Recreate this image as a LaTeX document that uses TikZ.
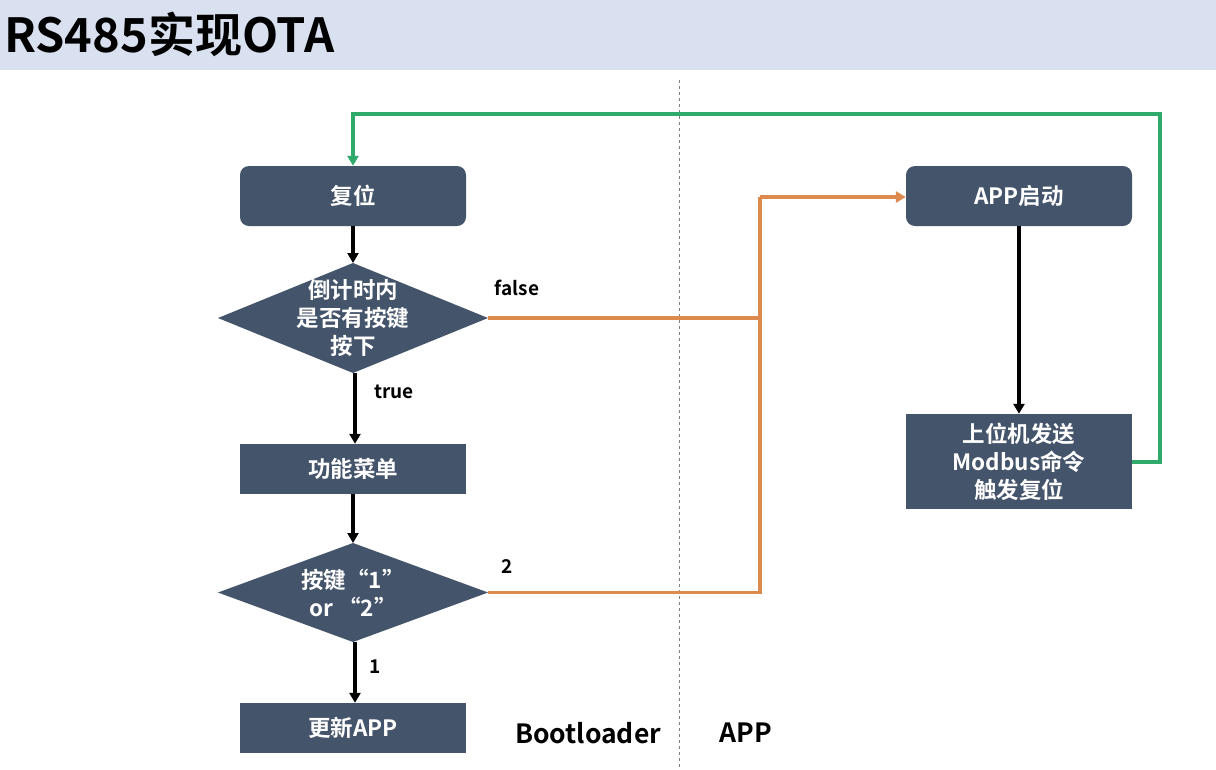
\documentclass[tikz,border=0pt]{standalone}
\usepackage{fontspec}
\setmainfont{Noto Sans CJK SC}[BoldFont={* Bold}]
\newfontfamily\cjkb{Noto Sans CJK SC Bold}
\usetikzlibrary{arrows.meta,shapes.geometric}
\definecolor{boxfill}{HTML}{44546A}
\definecolor{titlebg}{HTML}{D9E1F0}
\definecolor{orangeln}{HTML}{DC8A4E}
\definecolor{greenln}{HTML}{2FAA6A}
\tikzset{
  boxfont/.style={font=\cjkb\fontsize{22.5}{28}\selectfont},
  procbox/.style={draw=none, fill=boxfill, text=white, minimum width=226pt, inner sep=0pt, align=center, boxfont},
  roundbox/.style={procbox, rounded corners=9pt, minimum height=60pt},
  decision/.style={diamond, fill=boxfill, inner sep=0pt, outer sep=0pt},
  dtext/.style={text=white, align=center, inner sep=0pt, boxfont},
  blk/.style={draw=black, line width=3.2pt, -{Triangle[length=10pt,width=11pt]}},
  org/.style={draw=orangeln, line width=3.2pt},
  grn/.style={draw=greenln, line width=3.2pt},
  tip/.style={-{Triangle[length=10pt,width=11pt]}},
  lbl/.style={font=\cjkb\fontsize{19}{22}\selectfont, text=black, inner sep=0pt},
}
\begin{document}
\begin{tikzpicture}[x=1pt,y=-1pt]
\useasboundingbox (0,0) rectangle (1216,769);
\fill[white] (0,0) rectangle (1216,769);
\fill[titlebg] (0,0) rectangle (1216,70);
\node[anchor=west, inner sep=0pt, font=\cjkb\fontsize{47}{50}\selectfont] (title) at (4,34) {RS485实现OTA};
\draw[gray, dashed, line width=1pt] (679,80) -- (679,769);

\node[roundbox] (reset) at (353,196) {复位};
\node[decision, minimum width=270pt, minimum height=110pt] (d1) at (353,318) {};
\node[dtext] (d1t) at (d1.center) {倒计时内\\是否有按键\\按下};
\node[procbox, minimum height=50pt] (menu) at (353,469) {功能菜单};
\node[decision, minimum width=270pt, minimum height=99pt] (d2) at (353,592.5) {};
\node[dtext] (d2t) at (d2.center) {按键“1”\\or “2”};
\node[procbox, minimum height=50pt] (upd) at (353,728) {更新APP};
\node[roundbox] (app) at (1019,196) {APP启动};
\node[procbox, minimum height=95pt] (host) at (1019,461.5) {上位机发送\\Modbus命令\\触发复位};

\coordinate (j1) at (760,318);
\coordinate (j2) at (760,592.5);
\coordinate (jt) at (760,197);
\coordinate (g1) at (1160,462);
\coordinate (g2) at (1160,114);
\coordinate (g3) at (353,114);

\draw[blk] (reset.south) -- (d1.north);
\draw[blk] ([xshift=2pt]d1.south) -- ([xshift=2pt]menu.north);
\draw[blk] (menu.south) -- (d2.north);
\draw[blk] ([xshift=2pt]d2.south) -- ([xshift=2pt]upd.north);
\draw[blk] (app.south) -- (host.north);

\draw[org] (d1.east) -- (j1);
\draw[org] (d2.east) -- (j2) -- (j1) -- (jt);
\draw[org, tip] (jt) -- (app.west |- jt);
\draw[grn, tip] (host.east |- g1) -- (g1) -- (g2) -- (g3) -- (reset.north);

\node[lbl] (lfalse) at (517,288) {false};
\node[lbl] (ltrue) at (394,392) {true};
\node[lbl] (l2) at (507,567) {2};
\node[lbl] (l1) at (375,667) {1};
\node[lbl, font=\cjkb\fontsize{26.5}{30}\selectfont] (boot) at (588,733) {Bootloader};
\node[lbl, font=\cjkb\fontsize{26.5}{30}\selectfont] (appl) at (746,733) {APP};
\end{tikzpicture}
\end{document}
